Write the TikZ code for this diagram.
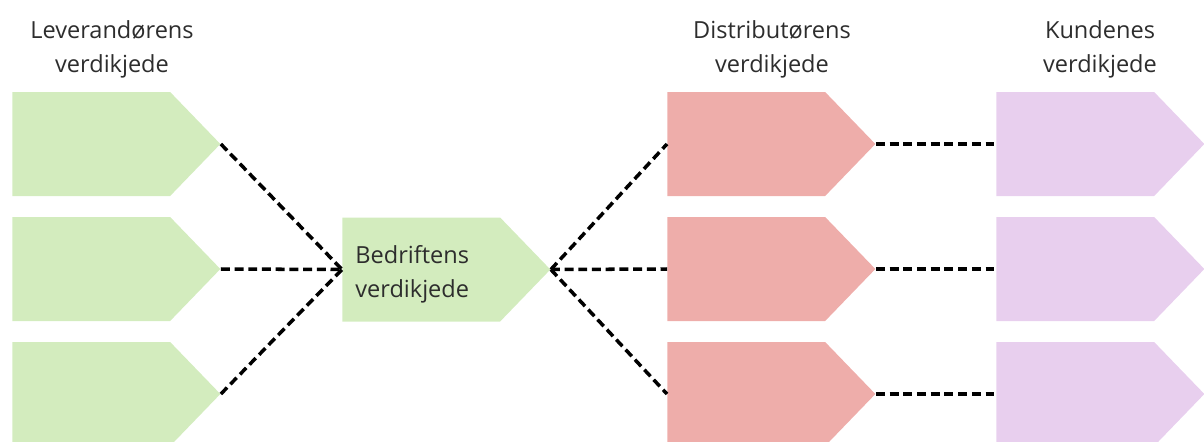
\documentclass[tikz,border=0pt]{standalone}
\usepackage{fontspec}
\setmainfont{Open Sans}
\usetikzlibrary{shapes.symbols,positioning}

\definecolor{supgreen}{RGB}{211,236,190}
\definecolor{distred}{RGB}{238,173,170}
\definecolor{custpurple}{RGB}{232,207,238}
\definecolor{labelgrey}{RGB}{45,45,45}

\tikzset{
  chain/.style={signal,signal to=east,signal pointer angle=92,anchor=west,
    minimum width=4.16cm,minimum height=2.08cm,inner sep=0pt,draw=none},
  link/.style={line width=2pt,dash pattern=on 5.1pt off 2.7pt},
  heading/.style={align=center,text=labelgrey,inner sep=0pt,
    font=\fontsize{13.4}{19.4}\selectfont}
}

\begin{document}
\begin{tikzpicture}
  \clip (0,0) rectangle (24.08,8.82);
  % leverandører, distributører og kunder i tre rader
  \foreach \i/\y in {1/5.94,2/3.44,3/0.94} {
    \node[chain,fill=supgreen] (sup\i) at (0.24,\y) {};
    \node[chain,fill=distred] (dist\i) at (13.34,\y) {};
    \node[chain,fill=custpurple] (cust\i) at (19.92,\y) {};
  }
  \node[chain,fill=supgreen] (firm) at (6.84,3.43) {};
  \node[heading,anchor=west,align=left] (firmtext) at (7.10,3.33) {Bedriftens\\verdikjede};

  \node[heading] (suphead) at (2.24,7.84) {Leverandørens\\verdikjede};
  \node[heading] (disthead) at (15.44,7.84) {Distributørens\\verdikjede};
  \node[heading] (custhead) at (22.00,7.84) {Kundenes\\verdikjede};

  \foreach \i in {1,2,3} {
    \draw[link] (sup\i.east) -- (firm.west);
    \draw[link] (firm.east) -- (dist\i.west);
    \draw[link] (dist\i.east) -- (cust\i.west);
  }
\end{tikzpicture}
\end{document}
